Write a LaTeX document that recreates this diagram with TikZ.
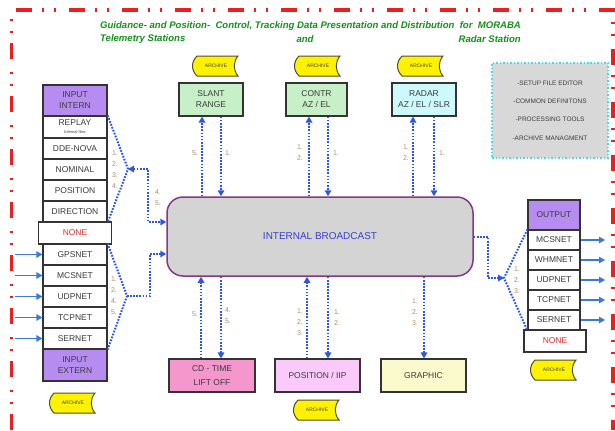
\documentclass[tikz,border=0pt]{standalone}
\usepackage{fontspec}
\setmainfont{Liberation Sans}
\usetikzlibrary{arrows.meta}

\definecolor{frame}{RGB}{232,32,32}
\definecolor{titlegreen}{RGB}{20,145,25}
\definecolor{link}{RGB}{45,85,230}
\definecolor{feedblue}{RGB}{60,120,225}
\definecolor{numtan}{RGB}{175,140,100}
\definecolor{lilac}{RGB}{182,140,240}
\definecolor{mint}{RGB}{200,240,200}
\definecolor{ice}{RGB}{205,248,252}
\definecolor{rose}{RGB}{245,150,205}
\definecolor{orchid}{RGB}{250,202,250}
\definecolor{cream}{RGB}{250,250,205}
\definecolor{busgray}{RGB}{212,212,212}
\definecolor{busline}{RGB}{135,55,135}
\definecolor{busblue}{RGB}{60,60,210}
\definecolor{toolgray}{RGB}{216,216,216}
\definecolor{toolline}{RGB}{70,220,225}
\definecolor{boxtext}{RGB}{60,60,60}

\begin{document}
\begin{tikzpicture}[x=1bp,y=-1bp,
    >={Triangle[length=6bp,width=6.5bp]},
    cell/.style={draw=black!80,line width=1.2bp,fill=white,minimum width=64bp,
        minimum height=21bp,inner sep=0pt,text=boxtext,align=center,
        font=\fontsize{8.5}{11}\selectfont},
    head/.style={cell,fill=lilac,minimum height=31bp},
    nonecell/.style={cell,minimum width=73bp,minimum height=22bp,text={rgb,255:red,225;green,50;blue,50}},
    outcell/.style={cell,minimum width=52bp,minimum height=20bp},
    unit/.style={cell,minimum width=64bp,minimum height=33bp},
    num/.style={text=numtan,align=center,inner sep=0pt,font=\fontsize{7}{11}\selectfont},
    bus/.style={draw=link,line width=2bp,dash pattern=on 1.7bp off 1.4bp},
    feed/.style={draw=feedblue,line width=1.2bp,->},
    title/.style={text=titlegreen,inner sep=0pt,font=\fontsize{9.6}{11}\selectfont\bfseries\itshape},
    archive/.pic={
        \draw[fill=yellow,draw=black!55!olive,line width=1bp]
            (-19,-10) -- (22,-10) .. controls (17,-4) and (17,4) .. (22,10)
            -- (-19,10) .. controls (-25,4) and (-25,-4) .. (-19,-10) -- cycle;
        \node[font=\fontsize{5}{5}\selectfont,text=boxtext] (-lbl) {ARCHIVE};
    }]
    \useasboundingbox (0,0) rectangle (615,430);

    % 外框
    \draw[frame,line width=3.5bp,dash pattern=on 16bp off 10bp on 2bp off 10bp on 2bp off 13bp]
        (11.5,430) -- (11.5,10) -- (613,10) -- (613,430);

    % 标题
    \node[title,anchor=west] (title1) at (100,26) {Guidance- and Position-~~Control, Tracking Data Presentation and Distribution~~for~~MORABA};
    \node[title,anchor=west] (title2) at (100,39) {Telemetry Stations};
    \node[title] (title3) at (305,39) {and};
    \node[title,anchor=east] (title4) at (521,39) {Radar Station};

    % 中心节点
    \node[draw=busline,fill=busgray,line width=1.5bp,rounded corners=16bp,
        minimum width=306bp,minimum height=79bp,text=busblue,
        font=\fontsize{10}{12}\selectfont] (bcast) at (320,236.5) {INTERNAL BROADCAST};

    % 上方数据源
    \node[unit,fill=mint] (slant) at (211,99.5) {SLANT\\RANGE};
    \node[unit,fill=mint,minimum width=61bp] (contr) at (316.5,99.5) {CONTR\\AZ / EL};
    \node[unit,fill=ice] (radar) at (424,99.5) {RADAR\\AZ / EL / SLR};

    % 下方输出
    \node[unit,fill=rose,minimum width=86bp,font=\fontsize{8.5}{14}\selectfont] (cdtime) at (212,375.5) {CD - TIME\\LIFT OFF};
    \node[unit,fill=orchid,minimum width=85bp] (posiip) at (317.5,375.5) {POSITION / IIP};
    \node[unit,fill=cream,minimum width=85bp] (graphic) at (423.5,375.5) {GRAPHIC};

    % 左侧输入 (intern)
    \node[head] (inintern) at (75,100.5) {INPUT\\INTERN};
    \node[cell,minimum height=22bp] (replay) at (75,127) {REPLAY\\[-3bp]{\fontsize{4}{4}\selectfont Internal files}};
    \node[cell] (ddenova) at (75,148.5) {DDE-NOVA};
    \node[cell] (nominal) at (75,169.5) {NOMINAL};
    \node[cell] (position) at (75,190.5) {POSITION};
    \node[cell] (direction) at (75,211.5) {DIRECTION};
    \node[nonecell] (nonein) at (75,233) {NONE};

    % 左侧输入 (extern)
    \node[cell] (gpsin) at (75,254.5) {GPSNET};
    \node[cell] (mcsin) at (75,275.5) {MCSNET};
    \node[cell] (udpin) at (75,296.5) {UDPNET};
    \node[cell] (tcpin) at (75,317.5) {TCPNET};
    \node[cell] (serin) at (75,338.5) {SERNET};
    \node[head,minimum height=32bp] (inextern) at (75,365) {INPUT\\EXTERN};

    % 右侧输出
    \node[outcell,fill=lilac,minimum height=30bp] (output) at (554,215) {OUTPUT};
    \node[outcell] (mcsout) at (554,240) {MCSNET};
    \node[outcell] (whmout) at (554,260) {WHMNET};
    \node[outcell] (udpout) at (554,280) {UDPNET};
    \node[outcell] (tcpout) at (554,300) {TCPNET};
    \node[outcell] (serout) at (554,320) {SERNET};
    \node[nonecell,minimum width=62bp] (noneout) at (555,341) {NONE};

    % 工具框
    \node[draw=toolline,fill=toolgray,line width=1.5bp,dotted,minimum width=116bp,
        minimum height=95bp,align=center,text=boxtext,
        font=\fontsize{6.5}{18.3}\selectfont] (tools) at (550,110.5)
        {-SETUP FILE EDITOR\\-COMMON DEFINITONS\\-PROCESSING TOOLS\\-ARCHIVE MANAGMENT};

    % 存档
    \pic (arcslant) at (216,66) {archive};
    \pic (arccontr) at (318,66) {archive};
    \pic (arcradar) at (421,66) {archive};
    \pic (arcin) at (73,403) {archive};
    \pic (arcpos) at (317,410) {archive};
    \pic (arcout) at (554,370) {archive};

    % 添加连接线 (上方)
    \draw[bus,->] (202,0 |- bcast.north) -- (202,0 |- slant.south);
    \draw[bus,->] (221,0 |- slant.south) -- (221,0 |- bcast.north);
    \draw[bus,->] (309,0 |- bcast.north) -- (309,0 |- contr.south);
    \draw[bus,->] (328,0 |- contr.south) -- (328,0 |- bcast.north);
    \draw[bus,->] (413,0 |- bcast.north) -- (413,0 |- radar.south);
    \draw[bus,->] (434,0 |- radar.south) -- (434,0 |- bcast.north);

    % 添加连接线 (下方)
    \draw[bus,->] (201,0 |- cdtime.north) -- (201,0 |- bcast.south);
    \draw[bus,->] (221,0 |- bcast.south) -- (221,0 |- cdtime.north);
    \draw[bus,->] (307,0 |- posiip.north) -- (307,0 |- bcast.south);
    \draw[bus,->] (328,0 |- bcast.south) -- (328,0 |- posiip.north);
    \draw[bus,->] (424,0 |- bcast.south) -- (424,0 |- graphic.north);

    % 添加连接线 (左侧)
    \coordinate (jin) at (128,169);
    \coordinate (jex) at (127,296);
    \draw[bus] (replay.north east) -- (jin) -- (direction.south east);
    \draw[bus,<->] (jin) -- (148,169) |- (bcast.west |- 0,222);
    \draw[bus] (gpsin.north east) -- (jex) -- (serin.south east);
    \draw[bus,->] (jex) -- (150,296) |- (bcast.west |- 0,254);

    % 添加连接线 (右侧)
    \coordinate (jout) at (504,278);
    \draw[bus,->] (bcast.east) -| (488,278) -- (jout);
    \draw[bus] (mcsout.north west) -- (jout) -- (serout.south west);

    % 外部输入输出
    \draw[feed] (15,0 |- gpsin.west) -- (gpsin.west);
    \draw[feed] (15,0 |- mcsin.west) -- (mcsin.west);
    \draw[feed] (15,0 |- udpin.west) -- (udpin.west);
    \draw[feed] (15,0 |- tcpin.west) -- (tcpin.west);
    \draw[feed] (15,0 |- serin.west) -- (serin.west);
    \draw[feed] (mcsout.east) -- (605,0 |- mcsout.east);
    \draw[feed] (whmout.east) -- (605,0 |- whmout.east);
    \draw[feed] (udpout.east) -- (605,0 |- udpout.east);
    \draw[feed] (tcpout.east) -- (605,0 |- tcpout.east);
    \draw[feed] (serout.east) -- (605,0 |- serout.east);

    % 添加序号
    \node[num] (nslantup) at (195,153) {5.};
    \node[num] (nslantdn) at (228,153) {1.};
    \node[num] (ncontrup) at (300,152.5) {1.\\2.};
    \node[num] (ncontrdn) at (336,153) {1.};
    \node[num] (nradarup) at (406,152.5) {1.\\2.};
    \node[num] (nradardn) at (442,153) {1.};
    \node[num] (ncdup) at (195,314) {5.};
    \node[num] (ncddn) at (228,315.5) {4.\\5.};
    \node[num] (nposup) at (300,322.5) {1.\\2.\\3.};
    \node[num] (nposdn) at (337,317.5) {1.\\2.};
    \node[num] (ngraph) at (415,312.5) {1.\\2.\\3.};
    \node[num] (nintern) at (115,170) {1.\\2.\\3.\\4.};
    \node[num] (nbusin) at (158,198) {4.\\5.};
    \node[num] (nextern) at (114,296) {1.\\2.\\4.\\5.};
    \node[num] (noutput) at (517,280) {1.\\2.\\3.};
\end{tikzpicture}
\end{document}
